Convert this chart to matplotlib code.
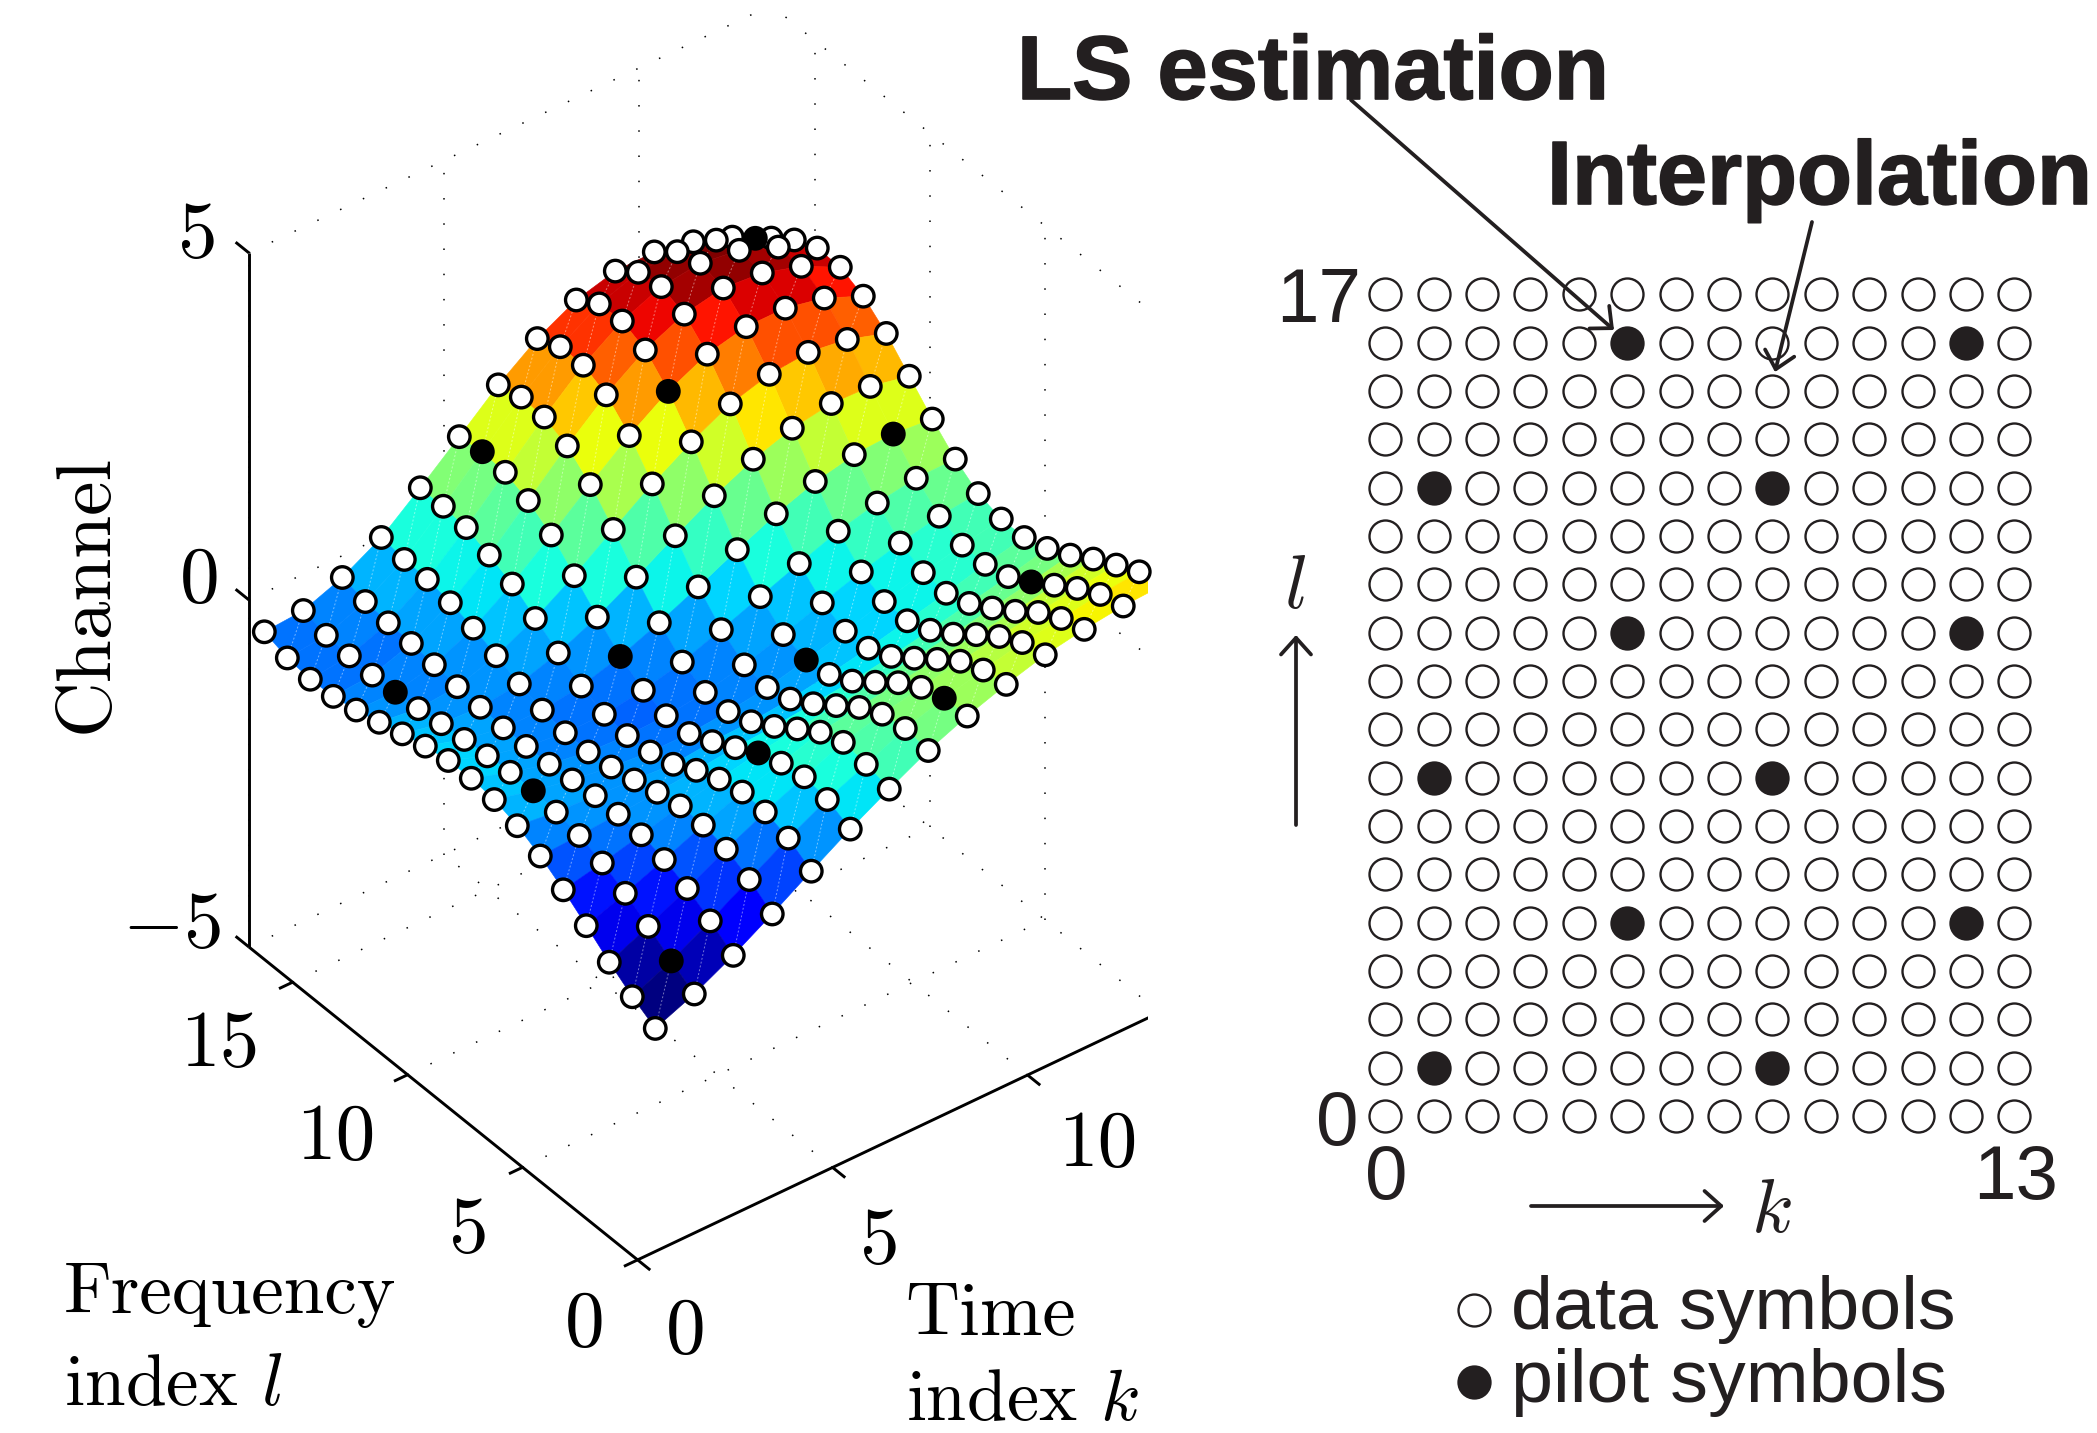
import numpy as np
import matplotlib
matplotlib.use('Agg')
import matplotlib.pyplot as plt
import matplotlib.patheffects as pe
from matplotlib.lines import Line2D
from matplotlib.patches import FancyArrowPatch, Rectangle
from matplotlib.transforms import IdentityTransform

W, H = 2097, 1433

# channel estimate, rows l = 0..17, columns k = 0..13
channel = [
    [-1.74, -1.51, -1.22, -0.89, -0.54, -0.20, 0.11, 0.40, 0.63, 0.82, 0.98, 1.08, 1.15, 1.18],
    [-1.55, -1.30, -0.99, -0.66, -0.33, -0.04, 0.20, 0.45, 0.62, 0.76, 0.89, 0.97, 1.05, 1.11],
    [-1.32, -1.07, -0.79, -0.49, -0.22, 0.02, 0.25, 0.39, 0.51, 0.62, 0.71, 0.79, 0.87, 0.94],
    [-1.06, -0.86, -0.64, -0.41, -0.20, -0.05, 0.13, 0.22, 0.31, 0.38, 0.47, 0.54, 0.65, 0.76],
    [-0.81, -0.69, -0.55, -0.40, -0.28, -0.17, -0.09, -0.02, 0.05, 0.13, 0.21, 0.32, 0.43, 0.55],
    [-0.59, -0.56, -0.52, -0.47, -0.42, -0.36, -0.32, -0.26, -0.20, -0.11, 0.00, 0.12, 0.24, 0.38],
    [-0.42, -0.49, -0.52, -0.56, -0.60, -0.54, -0.52, -0.46, -0.37, -0.26, -0.13, 0.00, 0.15, 0.27],
    [-0.31, -0.45, -0.56, -0.64, -0.69, -0.69, -0.64, -0.56, -0.43, -0.28, -0.12, 0.03, 0.16, 0.27],
    [-0.27, -0.45, -0.60, -0.69, -0.72, -0.70, -0.63, -0.50, -0.33, -0.14, 0.04, 0.19, 0.31, 0.37],
    [-0.28, -0.48, -0.61, -0.68, -0.68, -0.60, -0.46, -0.26, -0.05, 0.16, 0.36, 0.50, 0.59, 0.60],
    [-0.34, -0.51, -0.61, -0.62, -0.54, -0.38, -0.16, 0.09, 0.36, 0.61, 0.81, 0.93, 0.96, 0.91],
    [-0.43, -0.55, -0.58, -0.51, -0.33, -0.08, 0.23, 0.56, 0.87, 1.13, 1.31, 1.40, 1.38, 1.26],
    [-0.53, -0.60, -0.55, -0.37, -0.10, 0.25, 0.65, 1.04, 1.38, 1.66, 1.82, 1.87, 1.79, 1.61],
    [-0.62, -0.63, -0.50, -0.24, 0.13, 0.57, 1.03, 1.47, 1.84, 2.11, 2.24, 2.24, 2.12, 1.88],
    [-0.69, -0.65, -0.46, -0.14, 0.28, 0.80, 1.32, 1.79, 2.17, 2.42, 2.53, 2.48, 2.31, 2.03],
    [-0.71, -0.64, -0.43, -0.07, 0.41, 0.94, 1.47, 1.95, 2.32, 2.55, 2.62, 2.54, 2.32, 2.04],
    [-0.67, -0.61, -0.39, -0.05, 0.45, 0.97, 1.49, 1.95, 2.30, 2.49, 2.52, 2.42, 2.18, 1.89],
    [-0.56, -0.52, -0.31, 0.00, 0.45, 0.92, 1.40, 1.80, 2.09, 2.24, 2.25, 2.13, 1.93, 1.65],
]
pilot_k = [5, 12, 1, 8, 5, 12, 1, 8, 5, 12, 1, 8]
pilot_l = [16, 16, 13, 13, 10, 10, 7, 7, 4, 4, 1, 1]
k_ticks = [0, 5, 10]
l_ticks = [0, 5, 10, 15]
z_ticks = [-5, 0, 5]

plt.rcParams['mathtext.fontset'] = 'cm'


def fx(x):
    return x / W


def fy(y):
    return 1 - y / H


fig = plt.figure(figsize=(W / 100, H / 100), dpi=100, facecolor='white')

# ---- left: surface
ax = fig.add_axes([-31.5 / W, 64.5 / H, H / W, 1.0], projection='3d', computed_zorder=False)
ax.set_proj_type('ortho')
ax.view_init(elev=38.15, azim=-127.5)
kmax, lmax = 13.39, 16.9
ax.set_xlim(0, kmax, view_margin=0)
ax.set_ylim(0, lmax, view_margin=0)
ax.set_zlim(-5, 5, view_margin=0)
ax.set_box_aspect((kmax * 49.16, lmax * 37.78, 10 * 88.27), zoom=0.8622)
ax.set_axis_off()

Z = np.array(channel)
nl, nk = Z.shape
K, L = np.meshgrid(np.arange(nk) + 0.389, np.arange(nl) - 0.109)
jet = plt.get_cmap('jet', 64)
face = jet((Z - Z.min()) / (Z.max() - Z.min()))
surf = ax.plot_surface(K, L, Z, facecolors=face, rstride=1, cstride=1, shade=False,
                       linewidth=0.4, antialiased=True, zorder=2)

clip = Rectangle((0, 0), 1148, H, transform=IdentityTransform())
surf.set_clip_path(clip)

# seams of the triangulated patches
for i in range(nl - 1):
    for j in range(nk - 1):
        ln, = ax.plot(K[i:i + 2, j:j + 2].diagonal(), L[i:i + 2, j:j + 2].diagonal(),
                      Z[i:i + 2, j:j + 2].diagonal(), color='white', lw=0.7, alpha=0.45,
                      ls=(0, (2, 2)), zorder=3)
        ln.set_clip_path(clip)


def line3(xs, ys, zs, **kw):
    ln, = ax.plot(xs, ys, zs, **kw)
    ln.set_clip_path(clip)
    return ln


# dotted grid on floor and back walls
dots = dict(color='black', lw=1.1, ls=(0, (1, 15.5)), zorder=1)
for k in k_ticks:
    line3([k, k], [0, lmax], [-5, -5], **dots)
    line3([k, k], [lmax, lmax], [-5, 5], **dots)
for l in l_ticks:
    line3([0, kmax], [l, l], [-5, -5], **dots)
    line3([kmax, kmax], [l, l], [-5, 5], **dots)
for z in z_ticks:
    line3([0, kmax], [lmax, lmax], [z, z], **dots)
    line3([kmax, kmax], [0, lmax], [z, z], **dots)

# axes lines and ticks
solid = dict(color='black', lw=2.1, zorder=4, solid_capstyle='butt')
line3([0, kmax], [0, 0], [-5, -5], **solid)
line3([0, 0], [0, lmax], [-5, -5], **solid)
line3([0, 0], [lmax, lmax], [-5, 5], **solid)
for k in k_ticks:
    line3([k, k], [0, -0.55], [-5, -5], **solid)
for l in l_ticks:
    line3([0, -0.35], [l, l], [-5, -5], **solid)
for z in z_ticks:
    line3([0, 0], [lmax, lmax + 0.58], [z, z], **solid)

# symbols on the surface
is_pilot = np.zeros(Z.shape, dtype=bool)
is_pilot[pilot_l, pilot_k] = True
keep = np.ones(Z.shape, dtype=bool)
keep[0, 13] = False  # falls outside the crop
cols = np.where(is_pilot[keep], 'black', 'white').tolist()
pts = ax.scatter(K[keep], L[keep], Z[keep], s=240, c=cols, edgecolors='black',
                 linewidths=2.4, depthshade=False, zorder=5)
pts.set_clip_on(False)

# left text
cm = dict(family='cmr10', color='black')
num = 57


def label(x, y, s, size=num, ha='center', va='center', **kw):
    opts = dict(cm)
    opts.update(kw)
    return fig.text(fx(x), fy(y), s, fontsize=size, ha=ha, va=va, **opts)


label(198, 237, '5')
label(200, 582, '0')
label(172, 927, r'$-5$')
label(220, 1046, '15')
label(336, 1139, '10')
label(469, 1232, '5')
label(585, 1326, '0')
label(686, 1333, '0')
label(880, 1243, '5')
label(1098, 1146, '10')
label(87, 594, 'Channel', size=55.7, rotation=90)
label(64, 1313, 'Frequency', size=52.8, ha='left', va='baseline')
label(64, 1405, r'index $l$', size=52.8, ha='left', va='baseline')
label(905, 1335, 'Time', size=54, ha='left', va='baseline')
label(906, 1420, r'index $k$', size=52, ha='left', va='baseline')

# ---- right: time-frequency grid
ink = '#231f20'
ax2 = fig.add_axes([1385.3 / W, (H - 1116) / H, 629.1 / W, 821.7 / H])
ax2.set_xlim(0, 13)
ax2.set_ylim(0, 17)
ax2.axis('off')
gk, gl = np.meshgrid(np.arange(nk), np.arange(nl))
ax2.scatter(gk[~is_pilot], gl[~is_pilot], s=530, facecolors='white', edgecolors=ink,
            linewidths=1.7, clip_on=False)
ax2.scatter(pilot_k, pilot_l, s=530, facecolors=ink, edgecolors=ink,
            linewidths=1.7, clip_on=False)

sans = dict(family='Liberation Sans', color=ink)
heavy = [pe.withStroke(linewidth=1.2, foreground=ink)]
label(1319, 302, '17', size=55, **sans)
label(1337, 1125, '0', size=55, **sans)
label(1386, 1180, '0', size=55, **sans)
label(2016, 1180, '13', size=55, **sans)
label(1511, 1329, 'data symbols', size=54.3, ha='left', va='baseline', **sans)
label(1511, 1402, 'pilot symbols', size=54.3, ha='left', va='baseline', **sans)
label(1017, 99, 'LS estimation', size=65, ha='left', va='baseline', weight='bold',
      path_effects=heavy, **sans)
label(1547, 204, 'Interpolation', size=64.8, ha='left', va='baseline', weight='bold',
      path_effects=heavy, **sans)
label(1751, 1232, r'$k$', size=55, ha='left', va='baseline', color=ink)
label(1295, 608, r'$l$', size=55, ha='center', va='baseline', color=ink)

for y, fc in [(1310, 'white'), (1382, ink)]:
    fig.add_artist(Line2D([fx(1474)], [fy(y)], marker='o', ms=23, mfc=fc, mec=ink, mew=1.7,
                          ls='none', transform=fig.transFigure))


def arrow(x0, y0, x1, y1, lw=2.7):
    fig.add_artist(FancyArrowPatch((fx(x0), fy(y0)), (fx(x1), fy(y1)),
                                   arrowstyle='->,head_length=0.3,head_width=0.27',
                                   mutation_scale=40, lw=lw, color=ink,
                                   shrinkA=0, shrinkB=0, transform=fig.transFigure))


arrow(1351, 100, 1614, 330)
arrow(1812, 222, 1775, 372)
arrow(1531, 1206, 1724, 1206)
arrow(1296, 825, 1296, 635)

fig.savefig('out.png', dpi=100)
